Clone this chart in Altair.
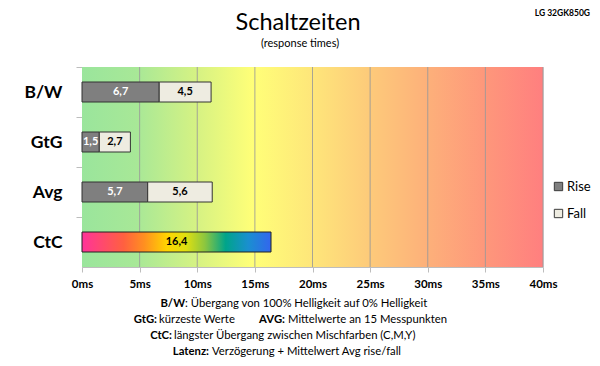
import altair as alt
import pandas as pd

categories = ["B/W", "GtG", "Avg", "CtC"]
stack_cats = ["B/W", "GtG", "Avg"]
rise = [6.7, 1.5, 5.7]
fall = [4.5, 2.7, 5.6]
ctc_value = 16.4
series = ["Rise", "Fall"]
tick_values = [0, 5, 10, 15, 20, 25, 30, 35, 40]
grid_values = [5, 10, 15, 20, 25, 30, 35, 40]

W, H = 461, 200
FONT = "Lato"

def fmt(v):
    return f"{v:.1f}".replace(".", ",")

rows = []
for c, r, f in zip(stack_cats, rise, fall):
    rows.append({"cat": c, "series": "Rise", "start": 0.0, "end": r, "label": fmt(r)})
    rows.append({"cat": c, "series": "Fall", "start": r, "end": r + f, "label": fmt(f)})
bars_df = pd.DataFrame(rows)
bars_df["mid"] = (bars_df["start"] + bars_df["end"]) / 2

ctc_df = pd.DataFrame([{"cat": "CtC", "start": 0.0, "end": ctc_value,
                        "mid": ctc_value / 2, "label": fmt(ctc_value)}])
grid_df = pd.DataFrame({"ms": grid_values})
one = pd.DataFrame({"a": [0]})

xscale = alt.Scale(domain=[0, 40], nice=False, zero=True)
yscale = alt.Scale(domain=categories, paddingInner=0.6, paddingOuter=0.3)

XAX = alt.Axis(values=tick_values, labelExpr="datum.value + 'ms'", title=None,
               grid=False, domain=True, domainColor="#bdbdbd", ticks=True,
               tickColor="#bdbdbd", tickSize=5, labelPadding=6, labelFlush=False,
               labelFont=FONT, labelFontSize=11.5, labelFontWeight="bold",
               labelColor="#000000")
YAX = alt.Axis(title=None, domain=True, domainColor="#bdbdbd", ticks=True,
               tickColor="#bdbdbd", tickSize=6, tickOffset=-25, labelOffset=25,
               labelPadding=14, labelFont=FONT, labelFontSize=17.5,
               labelFontWeight="bold", labelColor="#000000", grid=False)

bg_grad = alt.Gradient(
    gradient="linear", x1=0, x2=1, y1=0, y2=0,
    stops=[
        alt.GradientStop(offset=0.0, color="#9ae59c"),
        alt.GradientStop(offset=0.12, color="#a8e897"),
        alt.GradientStop(offset=0.25, color="#d6f283"),
        alt.GradientStop(offset=0.37, color="#ffff78"),
        alt.GradientStop(offset=0.5, color="#fee67a"),
        alt.GradientStop(offset=0.62, color="#fdcb7a"),
        alt.GradientStop(offset=0.75, color="#fdb07a"),
        alt.GradientStop(offset=0.88, color="#fe967b"),
        alt.GradientStop(offset=1.0, color="#ff7f7f"),
    ],
)
ctc_grad = alt.Gradient(
    gradient="linear", x1=0, x2=1, y1=0, y2=0,
    stops=[
        alt.GradientStop(offset=0.0, color="#ff3399"),
        alt.GradientStop(offset=0.22, color="#ff6040"),
        alt.GradientStop(offset=0.33, color="#ff9020"),
        alt.GradientStop(offset=0.45, color="#ffd500"),
        alt.GradientStop(offset=0.55, color="#e0e010"),
        alt.GradientStop(offset=0.65, color="#8cc63f"),
        alt.GradientStop(offset=0.76, color="#00a48a"),
        alt.GradientStop(offset=0.88, color="#1a8fd0"),
        alt.GradientStop(offset=1.0, color="#3366ee"),
    ],
)

background = alt.Chart(one).mark_rect(fill=bg_grad).encode(
    x=alt.value(0), x2=alt.value(W), y=alt.value(0), y2=alt.value(H)
)

grid = alt.Chart(grid_df).mark_rule(color="#999999", strokeWidth=1, opacity=0.85).encode(
    x=alt.X("ms:Q", scale=xscale, axis=XAX),
    y=alt.value(0), y2=alt.value(H),
)

bars = alt.Chart(bars_df).mark_bar(stroke="#333333", strokeWidth=1).encode(
    x=alt.X("start:Q", scale=xscale, axis=XAX),
    x2="end:Q",
    y=alt.Y("cat:N", scale=yscale, sort=categories, axis=YAX),
    color=alt.Color("series:N",
                    scale=alt.Scale(domain=series, range=["#7f7f7f", "#eeece1"]),
                    legend=alt.Legend(orient="none", legendX=470, legendY=113, title=None,
                                      symbolType="square", symbolSize=70,
                                      symbolStrokeColor="#3a3a3a", symbolStrokeWidth=1,
                                      labelFont=FONT, labelFontSize=13, labelColor="#000000",
                                      rowPadding=13, labelOffset=2, padding=0)),
)

bar_text = alt.Chart(bars_df).mark_text(font=FONT, fontSize=11, fontWeight="bold").encode(
    x=alt.X("mid:Q", scale=xscale, axis=XAX),
    y=alt.Y("cat:N", scale=yscale, sort=categories, axis=YAX),
    text="label:N",
    color=alt.condition(alt.datum.series == "Rise", alt.value("#ffffff"), alt.value("#000000")),
)

ctc_bar = alt.Chart(ctc_df).mark_bar(fill=ctc_grad, stroke="#222222", strokeWidth=1).encode(
    x=alt.X("start:Q", scale=xscale, axis=XAX),
    x2="end:Q",
    y=alt.Y("cat:N", scale=yscale, sort=categories, axis=YAX),
)
ctc_text = alt.Chart(ctc_df).mark_text(font=FONT, fontSize=11, fontWeight="bold", color="#000000").encode(
    x=alt.X("mid:Q", scale=xscale, axis=XAX),
    y=alt.Y("cat:N", scale=yscale, sort=categories, axis=YAX),
    text="label:N",
)

def txt(s, x, y, size, weight="normal", align="left"):
    return alt.Chart(one).mark_text(text=s, font=FONT, fontSize=size, fontWeight=weight,
                                    align=align, baseline="alphabetic", color="#000000").encode(
        x=alt.value(x), y=alt.value(y))

X0, Y0 = 82, 67  # plot origin in page coords
FS = 11.3
texts = [
    txt("Schaltzeiten", 216, 30 - Y0, 23.5, align="center"),
    txt("(response times)", 218, 47 - Y0, 11, align="center"),
    txt("LG 32GK850G", 592 - X0 - 2, 16 - Y0, 8.5, weight="bold", align="right"),
    txt("B/W", 185 - X0, 307 - Y0, FS, weight="bold", align="right"),
    txt(":  Übergang von 100% Helligkeit auf 0% Helligkeit", 185 - X0, 307 - Y0, FS),
    txt("GtG:", 157 - X0, 323 - Y0, FS, weight="bold", align="right"),
    txt("kürzeste  Werte", 159 - X0, 323 - Y0, FS),
    txt("AVG:", 285 - X0, 323 - Y0, FS, weight="bold", align="right"),
    txt("Mittelwerte  an 15 Messpunkten", 288 - X0, 323 - Y0, FS),
    txt("CtC:", 172 - X0, 339 - Y0, FS, weight="bold", align="right"),
    txt("längster Übergang  zwischen Mischfarben  (C,M,Y)", 174 - X0, 339 - Y0, FS),
    txt("Latenz:", 209 - X0, 355 - Y0, FS, weight="bold", align="right"),
    txt("Verzögerung  + Mittelwert  Avg rise/fall", 212 - X0, 355 - Y0, FS),
]

chart = alt.layer(background, grid, bars, bar_text, ctc_bar, ctc_text, *texts).properties(
    width=W, height=H,
    autosize=alt.AutoSizeParams(type="none"),
    padding={"left": 74, "top": 59, "right": 49, "bottom": 91},
).configure_view(strokeWidth=0).configure(background="#ffffff")

chart.save("out.html", embed_options={"renderer": "svg", "actions": False})
